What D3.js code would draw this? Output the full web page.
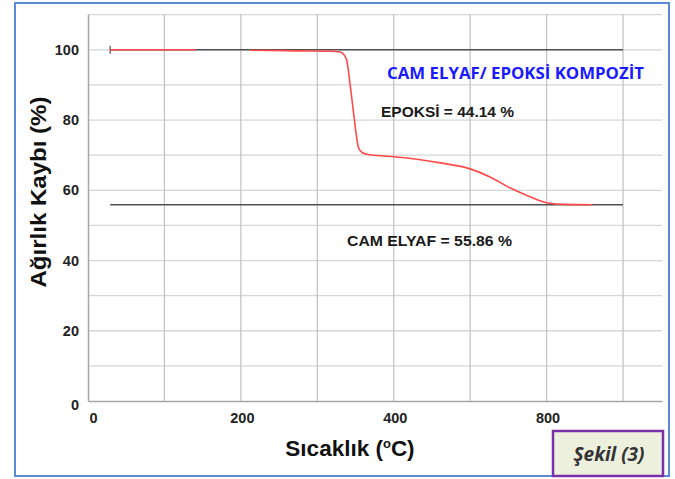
<!DOCTYPE html>
<html><head><meta charset="utf-8">
<script src="https://cdn.jsdelivr.net/npm/d3@7"></script>
<style>body{margin:0;background:#fff}svg{display:block}</style>
</head><body>
<script>
// Data
const curveTemp = [29, 140, null, 212, 277, 317, 330, 335, 339, 343, 347, 351, 354, 359, 369, 404, 435, 461, 500, 526, 552, 579, 602, 624, 660];
const curveMass = [100, 100, null, 99.9, 99.7, 99.6, 99.4, 98.6, 96.6, 90, 82.9, 75.8, 72.1, 70.7, 70.1, 69.5, 68.7, 67.8, 66.1, 63.8, 60.7, 58.1, 56.4, 56.0, 55.9];
const refLevels = [100, 55.86];
const refRange = [29, 700];
const xTickValues = [0, 200, 400, 600];
const xTickLabels = ["0", "200", "400", "800"];
const yTickValues = [0, 20, 40, 60, 80, 100];

const W = 675, H = 479;
const svg = d3.select("body").append("svg").attr("width", W).attr("height", H);

// outer frame
svg.append("rect").attr("x", 15).attr("y", 3).attr("width", 654).attr("height", 473)
  .attr("fill", "#fff").attr("stroke", "#5b8bd6").attr("stroke-width", 2);

const x = d3.scaleLinear().domain([0, 751]).range([88, 662]);
const y = d3.scaleLinear().domain([0, 110.2]).range([401, 14]);

// grid
const g = svg.append("g");
g.selectAll(".hg").data(d3.range(10, 111, 10)).join("line")
  .attr("x1", 88).attr("x2", 662).attr("y1", d => y(d)).attr("y2", d => y(d))
  .attr("stroke", "#d6d6d6").attr("stroke-width", 1.3);
g.selectAll(".vg").data(d3.range(100, 701, 100)).join("line")
  .attr("y1", 14).attr("y2", 401).attr("x1", d => x(d)).attr("x2", d => x(d))
  .attr("stroke", "#c4c4c4").attr("stroke-width", 1.3);

// axes
const xAxis = svg.append("g").attr("transform", `translate(0,${y(0)})`)
  .call(d3.axisBottom(x).tickValues(xTickValues).tickFormat((d, i) => xTickLabels[i]).tickSize(0).tickPadding(12));
xAxis.select(".domain").attr("stroke", "#a6a6a6").attr("stroke-width", 1.5);
xAxis.selectAll("text").attr("font-family", "Liberation Sans, Arial, sans-serif").attr("font-weight", "bold")
  .attr("font-size", 14.5).attr("fill", "#222").attr("dx", (d, i) => i === 0 ? 5 : 1);

const yAxis = svg.append("g").attr("transform", `translate(88,0)`)
  .call(d3.axisLeft(y).tickValues(yTickValues).tickSize(0).tickPadding(9));
yAxis.select(".domain").attr("stroke", "#a6a6a6").attr("stroke-width", 1.5);
yAxis.selectAll("text").attr("font-family", "Liberation Sans, Arial, sans-serif").attr("font-weight", "bold")
  .attr("font-size", 14.5).attr("fill", "#222").attr("dy", (d) => d === 0 ? "0.6em" : "0.32em");

// reference lines
svg.selectAll(".ref").data(refLevels).join("line")
  .attr("x1", x(refRange[0])).attr("x2", x(refRange[1]))
  .attr("y1", d => y(d)).attr("y2", d => y(d))
  .attr("stroke", "#505050").attr("stroke-width", 1.5);
svg.append("line").attr("x1", x(refRange[0])).attr("x2", x(refRange[0]))
  .attr("y1", y(refLevels[0]) - 4).attr("y2", y(refLevels[0]) + 4)
  .attr("stroke", "#505050").attr("stroke-width", 1.2);

// curve
const pts = curveTemp.map((t, i) => ({t, m: curveMass[i]}));
const line = d3.line().defined(d => d.t != null).x(d => x(d.t)).y(d => y(d.m)).curve(d3.curveMonotoneX);
svg.append("path").datum(pts).attr("d", line).attr("fill", "none")
  .attr("stroke", "#ff4a4a").attr("stroke-width", 1.6);

// annotations
svg.append("text").attr("x", 387).attr("y", 79)
  .attr("font-family", "Open Sans, sans-serif").attr("font-weight", "bold").attr("font-size", 16.5)
  .attr("fill", "#1a1aff").attr("textLength", 257).attr("lengthAdjust", "spacingAndGlyphs")
  .text("CAM ELYAF/ EPOKSİ  KOMPOZİT");
svg.append("text").attr("x", 381).attr("y", 117)
  .attr("font-family", "Liberation Sans, Arial, sans-serif").attr("font-size", 15.5).attr("font-weight", "bold")
  .attr("fill", "#1a1a1a").attr("textLength", 133).attr("lengthAdjust", "spacingAndGlyphs")
  .text("EPOKSİ = 44.14 %");
svg.append("text").attr("x", 347).attr("y", 246)
  .attr("font-family", "Liberation Sans, Arial, sans-serif").attr("font-size", 15.5).attr("font-weight", "bold")
  .attr("fill", "#1a1a1a").attr("textLength", 165).attr("lengthAdjust", "spacingAndGlyphs")
  .text("CAM ELYAF = 55.86 %");

// axis titles
svg.append("text").attr("transform", "translate(46,192) rotate(-90)").attr("text-anchor", "middle")
  .attr("font-family", "Liberation Sans, Arial, sans-serif").attr("font-weight", "bold").attr("font-size", 22)
  .attr("fill", "#111").attr("textLength", 191).attr("lengthAdjust", "spacingAndGlyphs")
  .text("Ağırlık Kaybı (%)");
const xt = svg.append("text").attr("x", 350).attr("y", 456).attr("text-anchor", "middle")
  .attr("font-family", "Liberation Sans, Arial, sans-serif").attr("font-weight", "bold").attr("font-size", 22.5)
  .attr("fill", "#111");
xt.append("tspan").text("Sıcaklık (");
xt.append("tspan").attr("font-size", 13).attr("dy", -8).text("o");
xt.append("tspan").attr("dy", 8).text("C)");

// Şekil box
svg.append("rect").attr("x", 553).attr("y", 431).attr("width", 110).attr("height", 45)
  .attr("fill", "#eef0de").attr("stroke", "#7a30a8").attr("stroke-width", 2.5);
svg.append("text").attr("x", 609).attr("y", 461).attr("text-anchor", "middle")
  .attr("font-family", "Open Sans, sans-serif").attr("font-style", "italic").attr("font-weight", "bold")
  .attr("font-size", 19).attr("fill", "#333").text("Şekil (3)");
</script>
</body></html>
